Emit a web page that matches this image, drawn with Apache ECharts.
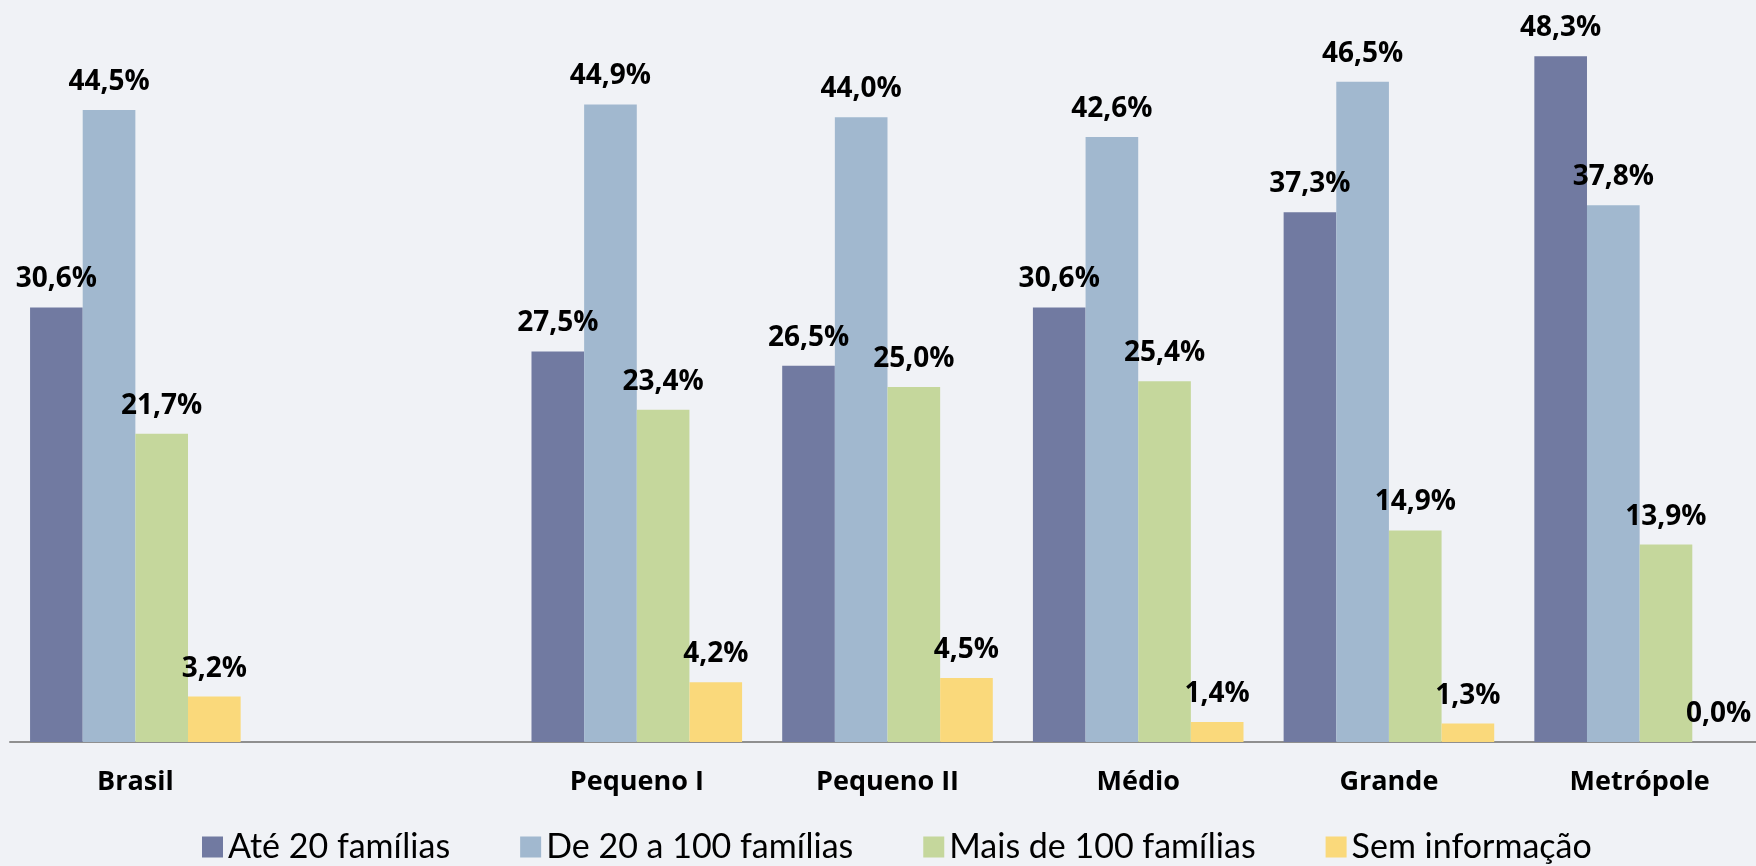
<!DOCTYPE html>
<html>
<head>
<meta charset="utf-8">
<script src="https://cdn.jsdelivr.net/npm/echarts@6/dist/echarts.min.js"></script>
<style>
html, body { margin: 0; padding: 0; background: #f0f2f6; }
#chartDiv { width: 1756px; height: 866px; }
</style>
</head>
<body>
<div id="chartDiv"></div>
<script>
// 数据
let categories = ['Brasil', '', 'Pequeno I', 'Pequeno II', 'Médio', 'Grande', 'Metrópole'];
let seriesNames = ['Até 20 famílias', 'De 20 a 100 famílias', 'Mais de 100 famílias', 'Sem informação'];
let ate20 = [30.6, '-', 27.5, 26.5, 30.6, 37.3, 48.3];
let de20a100 = [44.5, '-', 44.9, 44.0, 42.6, 46.5, 37.8];
let mais100 = [21.7, '-', 23.4, 25.0, 25.4, 14.9, 13.9];
let semInfo = [3.2, '-', 4.2, 4.5, 1.4, 1.3, 0.0];
let colors = ['#717aa1', '#a1b8cf', '#c5d79c', '#fad97b'];

let myChart = echarts.init(document.getElementById('chartDiv'));

function makeSerie(name, data, color) {
	return {
		name: name,
		type: 'bar',
		data: data,
		barGap: '0%',
		barCategoryGap: '16%',
		itemStyle: {color: color},
		label: {
			show: true,
			position: 'top',
			distance: 14,
			color: '#000',
			fontFamily: 'Open Sans',
			fontWeight: 'bold',
			fontSize: 28,
			formatter(params) {
				return params.value.toFixed(1).replace('.', ',') + '%';
			}
		}
	};
}

let option = {
	backgroundColor: '#f0f2f6',
	animation: false,
	grid: {
		left: 10,
		width: 1755,
		top: 32,
		bottom: 124,
		outerBoundsMode: 'none'
	},
	legend: {
		bottom: -3,
		left: 197,
		itemWidth: 21,
		itemHeight: 21,
		itemGap: 70,
		icon: 'rect',
		textStyle: {
			fontFamily: 'Lato',
			fontSize: 34,
			color: '#000'
		},
		data: seriesNames
	},
	xAxis: {
		type: 'category',
		data: categories,
		axisTick: {show: false},
		axisLine: {lineStyle: {color: '#8f8f8f', width: 2}},
		axisLabel: {
			margin: 27,
			color: '#000',
			fontFamily: 'Open Sans',
			fontWeight: 'bold',
			fontSize: 27
		}
	},
	yAxis: {
		type: 'value',
		min: 0,
		max: 50,
		show: false,
		splitLine: {show: false}
	},
	series: [
		makeSerie(seriesNames[0], ate20, colors[0]),
		makeSerie(seriesNames[1], de20a100, colors[1]),
		makeSerie(seriesNames[2], mais100, colors[2]),
		makeSerie(seriesNames[3], semInfo, colors[3])
	]
};
myChart.setOption(option);
</script>
</body>
</html>
